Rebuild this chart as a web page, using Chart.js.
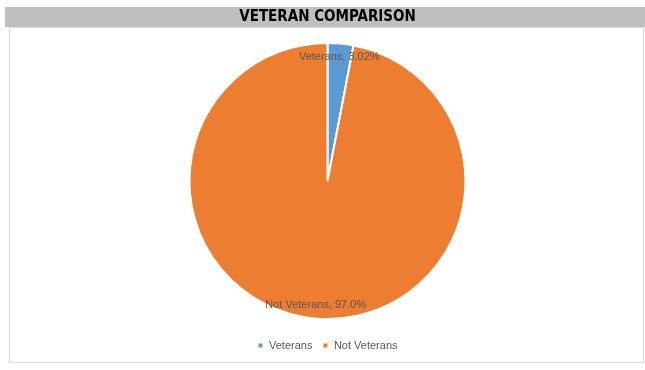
<!DOCTYPE html>
<html>
<head>
<meta charset="utf-8">
<script src="https://cdn.jsdelivr.net/npm/chart.js@4"></script>
<style>
  html, body { margin: 0; padding: 0; background: #fff; }
  #wrap { width: 645px; height: 370px; }
</style>
</head>
<body>
<div id="wrap"><canvas id="vetChart" width="645" height="370"></canvas></div>
<script>
// data
const categories = ["Veterans", "Not Veterans"];
const shares = [3.02, 96.98];
const shareText = ["3.02%", "97.0%"];
const sliceColors = ["#5b9bd5", "#ed7d31"];

const ctx = document.getElementById("vetChart").getContext("2d");

// grey title bar and light frame like the office chart
const frameDeco = {
    id: "frameDeco",
    beforeDraw(chart) {
        const c = chart.ctx;
        c.save();
        c.fillStyle = "#fff";
        c.fillRect(0, 0, chart.width, chart.height);
        c.fillStyle = "#bfbfbf";
        c.fillRect(5, 7, chart.width - 5, 20);
        c.strokeStyle = "#d9d9d9";
        c.lineWidth = 1;
        c.strokeRect(9.5, 27.5, chart.width - 11, 335);
        c.restore();
    }
};

// "Category, x%" labels near the rim of each slice
const sliceLabels = {
    id: "sliceLabels",
    afterDatasetsDraw(chart) {
        const c = chart.ctx;
        const arcs = chart.getDatasetMeta(0).data;
        c.save();
        c.font = "11px 'Liberation Sans', sans-serif";
        c.fillStyle = "#595959";
        c.textAlign = "center";
        c.textBaseline = "middle";
        arcs.forEach((arc, i) => {
            const p = arc.getProps(["x", "y", "startAngle", "endAngle", "outerRadius"], true);
            const mid = (p.startAngle + p.endAngle) / 2;
            const r = p.outerRadius * 0.9;
            c.fillText(categories[i] + ", " + shareText[i], p.x + Math.cos(mid) * r, p.y + Math.sin(mid) * r);
        });
        c.restore();
    }
};

new Chart(ctx, {
    type: "pie",
    data: {
        labels: categories,
        datasets: [{
            data: shares,
            backgroundColor: sliceColors,
            borderColor: "#ffffff",
            borderWidth: 2
        }]
    },
    options: {
        responsive: false,
        animation: false,
        radius: 138,
        layout: { padding: { left: 10, right: 0, top: 0, bottom: 9 } },
        plugins: {
            title: {
                display: true,
                text: "VETERAN COMPARISON",
                color: "#000",
                font: { family: "'Liberation Sans Narrow', 'DejaVu Sans Condensed', sans-serif", size: 15, weight: "bold" },
                padding: { top: 8, bottom: 6 }
            },
            legend: {
                position: "bottom",
                labels: {
                    color: "#595959",
                    font: { family: "'Liberation Sans', sans-serif", size: 11 },
                    boxWidth: 6,
                    boxHeight: 6,
                    padding: 10
                }
            },
            tooltip: { enabled: false }
        }
    },
    plugins: [frameDeco, sliceLabels]
});
</script>
</body>
</html>
